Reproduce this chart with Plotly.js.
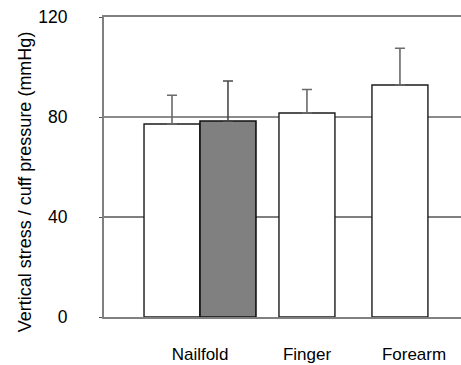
<!DOCTYPE html>
<html>
<head>
<meta charset="utf-8">
<script src="https://cdn.plot.ly/plotly-3.0.1.min.js"></script>
<style>html,body{margin:0;padding:0;background:#fff;}#chart{width:461px;height:365px;}</style>
</head>
<body>
<div id="chart"></div>
<script>
// Data
const categories = ["Nailfold", "Finger", "Forearm"];
const whiteValues = [77.2, 81.6, 92.8];
const whiteErrors = [11.5, 9.4, 14.7];
const grayCategories = ["Nailfold"];
const grayValues = [78.4];
const grayErrors = [16.0];
const yTicks = [0, 40, 80, 120];
const yTitle = "Vertical stress / cuff pressure (mmHg)";

const fam = "Liberation Sans, Arial, sans-serif";
const font = {family: fam, size: 17, color: "#000"};

const traces = [
  {
    type: "bar", x: categories, y: whiteValues,
    offset: [-0.523, -0.262, -0.393], width: 0.523,
    marker: {color: "#ffffff", line: {color: "#1a1a1a", width: 1.4}},
    error_y: {type: "data", symmetric: false, array: whiteErrors, arrayminus: [0,0,0],
              color: "#6a6a6a", thickness: 1.6, width: 5},
    hoverinfo: "skip", showlegend: false
  },
  {
    type: "bar", x: grayCategories, y: grayValues,
    offset: 0, width: 0.523,
    marker: {color: "#808080", line: {color: "#111", width: 1.6}},
    error_y: {type: "data", symmetric: false, array: grayErrors, arrayminus: [0],
              color: "#4a4a4a", thickness: 1.6, width: 5},
    hoverinfo: "skip", showlegend: false
  }
];

const layout = {
  width: 461, height: 365,
  margin: {l: 104, r: 0, t: 17, b: 48},
  paper_bgcolor: "#fff", plot_bgcolor: "#fff",
  font: font,
  barmode: "overlay",
  xaxis: {
    type: "category", range: [-0.897, 2.439],
    showline: true, linecolor: "#808080", linewidth: 2, mirror: true,
    showgrid: false, ticks: "", ticklabelstandoff: 21,
    tickfont: {family: fam, size: 17, color: "#000"}, fixedrange: true
  },
  yaxis: {
    range: [0, 120], tickmode: "array", tickvals: yTicks,
    showline: true, linecolor: "#808080", linewidth: 2,
    showgrid: false,
    ticks: "outside", ticklen: 3, tickcolor: "#555", tickwidth: 1,
    ticklabelstandoff: 28, zeroline: false,
    tickfont: {family: fam, size: 17.5, color: "#000"},
    title: {text: yTitle + "\u00A0\u00A0\u00A0\u00A0\u00A0\u00A0\u200B", standoff: 2,
            font: {family: fam, size: 18, color: "#000"}},
    fixedrange: true
  },
  shapes: [
    {type: "line", xref: "x domain", x0: 0, x1: 1, yref: "y", y0: yTicks[1], y1: yTicks[1],
     line: {color: "#000", width: 1}, layer: "below"},
    {type: "line", xref: "x domain", x0: 0, x1: 1, yref: "y", y0: yTicks[2], y1: yTicks[2],
     line: {color: "#8c8c8c", width: 2}, layer: "below"}
  ]
};

Plotly.newPlot("chart", traces, layout, {displayModeBar: false, staticPlot: true});
</script>
</body>
</html>
